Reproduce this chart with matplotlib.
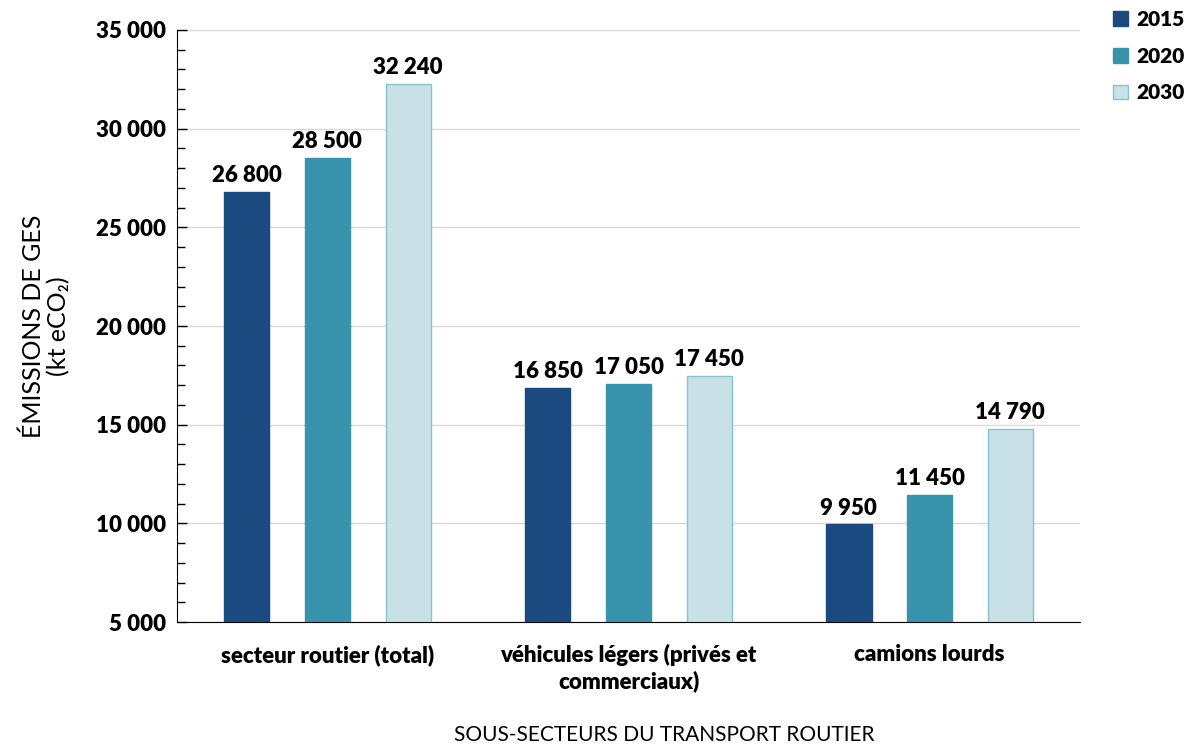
import matplotlib.pyplot as plt
import numpy as np
from matplotlib.ticker import MultipleLocator, FuncFormatter

plt.rcParams['font.family'] = ['Lato', 'DejaVu Sans']

# Data
categories = ['secteur routier (total)', 'véhicules légers (privés et\ncommerciaux)', 'camions lourds']
years = ['2015', '2020', '2030']
values_2015 = [26800, 16850, 9950]
values_2020 = [28500, 17050, 11450]
values_2030 = [32240, 17450, 14790]

series = [values_2015, values_2020, values_2030]
colors = ['#1b4a80', '#3893ad', '#c8e1e7']
edges = ['#1b4a80', '#3893ad', '#86c2cf']

fig = plt.figure(figsize=(11.87, 7.46), dpi=100)
ax = fig.add_axes([0.149, 0.166, 0.761, 0.794])

x = np.arange(len(categories))
width = 0.15
step = 0.268
for i, (vals, year) in enumerate(zip(series, years)):
    pos = x + (i - 1) * step
    ax.bar(pos, vals, width, color=colors[i], edgecolor=edges[i], linewidth=1,
           label=year, zorder=3)
    for xp, v in zip(pos, vals):
        ax.text(xp, v + 300, f'{v:,}'.replace(',', ' '), ha='center', va='bottom',
                fontsize=16, fontweight='heavy')

ax.set_xlim(-0.5, 2.5)
ax.set_ylim(5000, 35000)
ax.yaxis.set_major_locator(MultipleLocator(5000))
ax.yaxis.set_minor_locator(MultipleLocator(1000))
ax.yaxis.set_major_formatter(FuncFormatter(lambda v, p: f'{int(v):,}'.replace(',', ' ')))
ax.tick_params(axis='y', which='both', direction='in', labelsize=16, width=1, pad=8)
ax.tick_params(axis='y', which='major', length=7)
ax.tick_params(axis='y', which='minor', length=6)
for lab in ax.get_yticklabels():
    lab.set_fontweight('heavy')
ax.grid(axis='y', color='#d9d9d9', linewidth=1, zorder=0)

ax.set_xticks(x)
ax.set_xticklabels(categories, fontsize=16, fontweight='heavy')
ax.tick_params(axis='x', length=0, pad=16)

for s in ['top', 'right']:
    ax.spines[s].set_visible(False)
ax.spines['left'].set_color('#000000')
ax.spines['bottom'].set_color('#000000')

ax.set_ylabel('ÉMISSIONS DE GES\n(kt eCO₂)', fontsize=18, labelpad=18, linespacing=1.1)
fig.text(0.56, 0.002, 'SOUS-SECTEURS DU TRANSPORT ROUTIER', ha='center', va='bottom', fontsize=15)

fig.legend(loc='upper left', bbox_to_anchor=(0.931, 0.998), borderaxespad=0.0,
           frameon=False, prop={'weight': 'heavy', 'size': 15}, handlelength=0.7,
           handleheight=0.7, handletextpad=0.4, labelspacing=0.85)

fig.savefig('out.png', dpi=100)
